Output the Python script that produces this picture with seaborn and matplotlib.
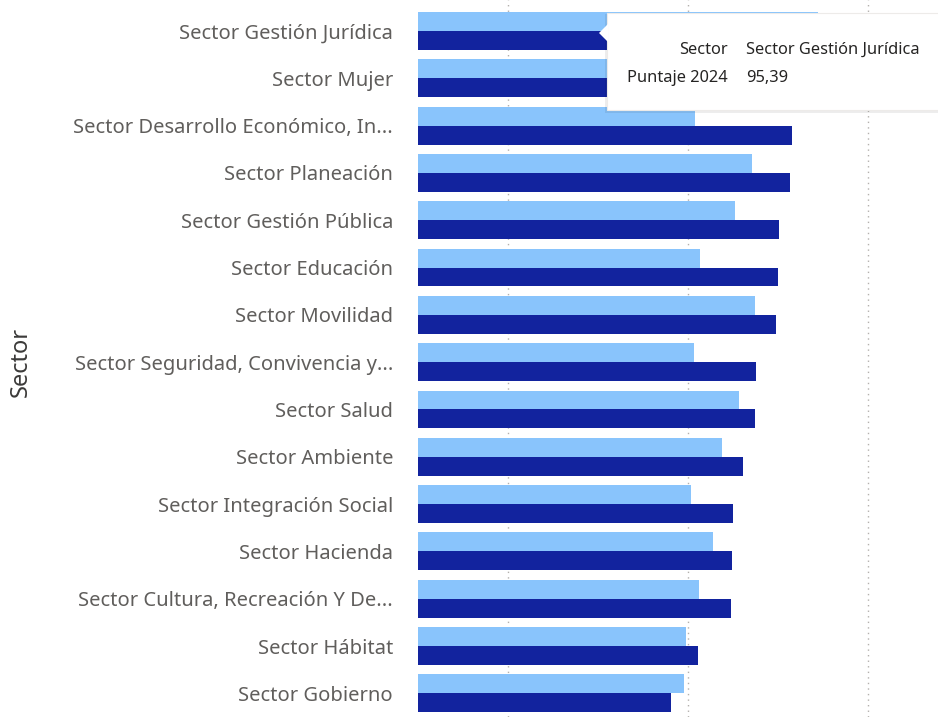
import pandas as pd
import matplotlib.pyplot as plt
import seaborn as sns
from matplotlib.patches import FancyBboxPatch, Polygon

# Data (light = 2023, dark = 2024)
sectores = [
    "Sector Gestión Jurídica",
    "Sector Mujer",
    "Sector Desarrollo Económico, In...",
    "Sector Planeación",
    "Sector Gestión Pública",
    "Sector Educación",
    "Sector Movilidad",
    "Sector Seguridad, Convivencia y...",
    "Sector Salud",
    "Sector Ambiente",
    "Sector Integración Social",
    "Sector Hacienda",
    "Sector Cultura, Recreación Y De...",
    "Sector Hábitat",
    "Sector Gobierno",
]
puntaje_2023 = [94.43, 89.0, 80.79, 87.08, 85.25, 81.40, 87.42, 80.63, 85.70, 83.80, 80.29, 82.84, 81.20, 79.80, 79.60]
puntaje_2024 = [95.39, 93.2, 91.53, 91.35, 90.09, 90.05, 89.78, 87.53, 87.42, 86.09, 84.96, 84.92, 84.79, 81.13, 78.12]

df = pd.DataFrame({
    "Sector": sectores * 2,
    "Puntaje": puntaje_2023 + puntaje_2024,
    "Año": ["2023"] * len(sectores) + ["2024"] * len(sectores),
})

sns.set_style("white")
plt.rcParams["font.family"] = ["Noto Sans", "DejaVu Sans"]
text_gray = "#605E5C"

fig = plt.figure(figsize=(9.38, 7.17), dpi=100)
ax = fig.add_axes([418 / 938, 0, 520 / 938, 1])

sns.barplot(data=df, y="Sector", x="Puntaje", hue="Año", orient="h",
            palette=["#89C4FC", "#12239E"], width=0.8, gap=0, linewidth=0,
            saturation=1, legend=False, ax=ax)

ax.set_xlim(50, 107.8)
ax.set_ylim(14.50, -0.655)
ax.set_xticks([60, 80, 100])
ax.xaxis.grid(True, linestyle=(0, (1, 3)), color="#B3B0AD", linewidth=1)
ax.set_axisbelow(True)
ax.tick_params(axis="x", length=0, labelbottom=False)
ax.tick_params(axis="y", length=0, pad=18, labelsize=14.5, labelcolor=text_gray)
for s in ax.spines.values():
    s.set_visible(False)
ax.set_xlabel("")
ax.set_ylabel("Sector", fontsize=17, color="#3B3A39", fontweight="semibold")
ax.yaxis.set_label_coords((33 - 418) / 520, 0.495)

# tooltip box
W, H = 938, 717
shadow = FancyBboxPatch((605 / W, 1 - 113 / H), 340 / W, 99 / H,
                        boxstyle="square,pad=0", transform=fig.transFigure,
                        facecolor="#000000", alpha=0.07, edgecolor="none", zorder=9)
box = FancyBboxPatch((607 / W, 1 - 110 / H), 340 / W, 97 / H,
                     boxstyle="square,pad=0", transform=fig.transFigure,
                     facecolor="white", edgecolor="#EDEBE9", linewidth=0.8, zorder=10)
arrow = Polygon([(608 / W, 1 - 24 / H), (599 / W, 1 - 33 / H), (608 / W, 1 - 42 / H)],
                closed=True, transform=fig.transFigure, facecolor="white",
                edgecolor="none", zorder=11)
fig.patches.extend([shadow, box, arrow])

tip = dict(va="center", fontsize=11.8, color="#252423", zorder=12)
fig.text(728 / W, 1 - 50 / H, "Sector", ha="right", **tip)
fig.text(746 / W, 1 - 50 / H, "Sector Gestión Jurídica", ha="left", **tip)
fig.text(728 / W, 1 - 78 / H, "Puntaje 2024", ha="right", **tip)
fig.text(746 / W, 1 - 78 / H, "95,39", ha="left", **tip)

plt.savefig("out.png", dpi=100)
